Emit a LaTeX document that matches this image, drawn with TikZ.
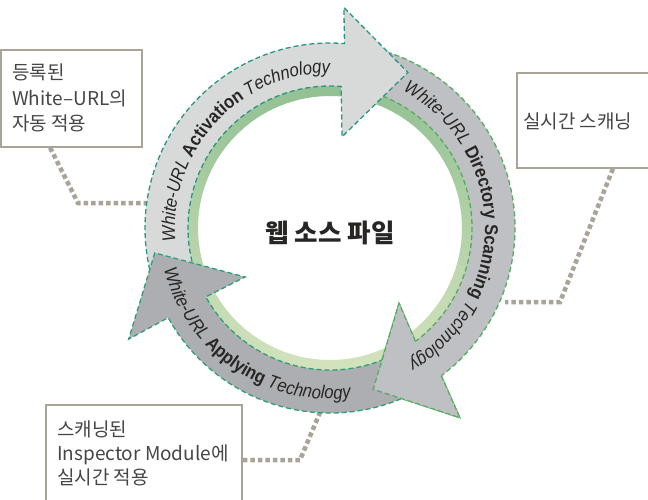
\documentclass[tikz,border=0pt]{standalone}
\usepackage{fontspec}
\setmainfont{Liberation Sans}
\newfontfamily\kr{Noto Sans CJK KR}
\newfontfamily\arcfont[FakeStretch=0.9]{Liberation Sans}
\usetikzlibrary{decorations.text,calc}
\definecolor{actfill}{RGB}{216,218,218}
\definecolor{dirfill}{RGB}{190,192,196}
\definecolor{appfill}{RGB}{172,174,178}
\definecolor{actline}{RGB}{40,150,128}
\definecolor{dirline}{RGB}{85,172,95}
\definecolor{appline}{RGB}{45,158,118}
\definecolor{gdark}{RGB}{148,193,148}
\definecolor{glight}{RGB}{210,226,188}
\definecolor{boxline}{RGB}{168,164,152}
\definecolor{dotc}{RGB}{168,164,152}
\definecolor{txt}{RGB}{40,37,37}
\definecolor{boxtxt}{RGB}{70,70,70}
\newcommand\arcit{\arcfont\fontsize{18.5pt}{20pt}\selectfont\itshape}
\newcommand\arcbf{\arcfont\fontsize{18.5pt}{20pt}\selectfont\bfseries}
\tikzset{
  boxstyle/.style={draw=boxline, line width=1.5pt, fill=white, inner sep=0pt},
  boxtext/.style={font=\kr\fontsize{19pt}{25.5pt}\selectfont, text=boxtxt, align=left, inner sep=0pt},
  boxtextb/.style={font=\kr\fontsize{19pt}{24pt}\selectfont, text=boxtxt, align=left, inner sep=0pt},
  dotline/.style={draw=dotc, line width=4.5pt, dash pattern=on 4.5pt off 3pt},
  arrowline/.style={line width=1.3pt, dash pattern=on 5pt off 3pt},
  arctext/.style={decorate, decoration={text along path, text color=txt, text={#1}}},
}
\begin{document}
\begin{tikzpicture}[x=1pt,y=1pt]
\clip (0,0) rectangle (648,-500);
\fill[white] (0,0) rectangle (648,-500);
% boxes
\node[boxstyle, minimum width=141pt, minimum height=97pt] (b1) at (71.5,-98.5) {};
\node[boxstyle, minimum width=145pt, minimum height=95pt] (b2) at (589.5,-120.5) {};
\node[boxstyle, minimum width=196pt, minimum height=110pt] (b3) at (144,-460) {};
\node[boxtext, anchor=north west] (t1) at (12,-64) {등록된\\White–URL의\\자동 적용};
\node[boxtext, anchor=west] (t2) at (523,-121) {실시간 스캐닝};
\node[boxtextb, anchor=north west] (t3) at (57,-421) {스캐닝된\\Inspector Module에\\실시간 적용};
% connectors
\coordinate (k1a) at (78,-203);
\coordinate (k1b) at (150,-203);
\coordinate (k2a) at (560,-302);
\coordinate (k2b) at (505,-302);
\coordinate (k3a) at (300,-460);
\coordinate (k3b) at (321,-410);
\draw[dotline] ($(b1.south west)!0.35!(b1.south east)$) -- (k1a) -- (k1b);
\draw[dotline] ($(b2.south west)!0.66!(b2.south east)$) -- (k2a) -- (k2b);
\draw[dotline] (b3.east) -- (k3a) -- (k3b);
\begin{scope}[shift={(330,-228)}]
% green ring
\foreach \a in {0,4,...,356}{
  \pgfmathsetmacro\p{50+50*sin(\a+2)}
  \fill[gdark!\p!glight] (\a:132) arc[start angle=\a, end angle=\a+4.4, radius=132] -- (\a+4.4:152) arc[start angle=\a+4.4, end angle=\a, radius=152] -- cycle;
}
% Directory arrow
\path[fill=dirfill, draw=dirline, arrowline] (77:185) arc[start angle=77, end angle=-53, radius=185] -- (-55.6:230) -- (-75:167) -- (-47.4:102) -- (-53:142) arc[start angle=-53, end angle=77, radius=142] -- cycle;
% Activation arrow
\path[fill=actfill, draw=actline, arrowline] (198:185) arc[start angle=198, end angle=85.5, radius=185] -- (86.4:221) -- (63.4:174) -- (82.5:92) -- (85.5:142) arc[start angle=85.5, end angle=198, radius=142] -- cycle;
% Applying arrow
\path[fill=appfill, draw=appline, arrowline] (295:185) arc[start angle=295, end angle=209, radius=185] -- (208.9:230) -- (188.1:177) -- (210:98) -- (209:142) arc[start angle=209, end angle=295, radius=142] -- cycle;
% Directory head on top
\fill[dirfill] (-53:185) -- (-55.6:230) -- (-75:167) -- (-47.4:102) -- (-53:142) -- cycle;
\draw[draw=dirline, arrowline] (-53:185) -- (-55.6:230) -- (-75:167) -- (-47.4:102) -- (-53:142);
% arc texts
\path[arctext={|\arcit|White-URL |\arcbf|Activation |\arcit|Technology}] (185:155) arc[start angle=185, end angle=60, radius=155];
\path[arctext={|\arcit|White-URL |\arcbf|Directory Scanning |\arcit|Technology}] (62:155) arc[start angle=62, end angle=-85, radius=155];
\path[arctext={|\arcit|White-URL |\arcbf|Applying |\arcit|Technology}] (194:171) arc[start angle=194, end angle=290, radius=171];
\end{scope}
\node[font=\kr\bfseries\fontsize{25.5pt}{29pt}\selectfont, text=txt] (center) at (330,-233) {웹 소스 파일};
\end{tikzpicture}
\end{document}
